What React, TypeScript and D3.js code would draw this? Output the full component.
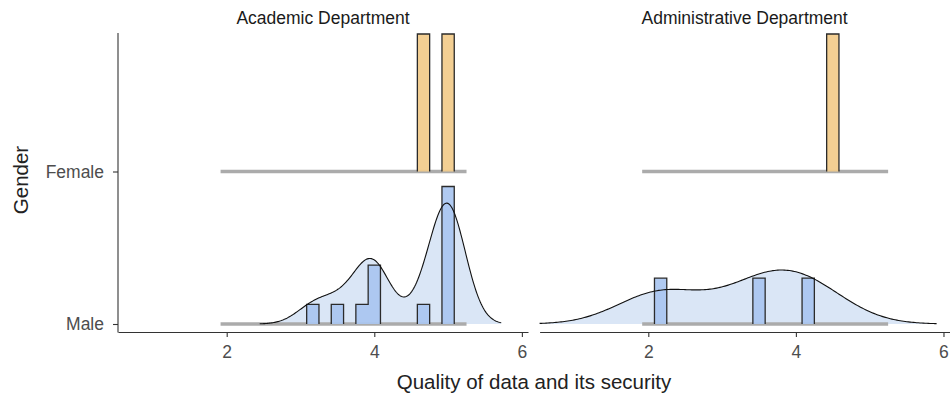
import React, { useEffect, useRef } from 'react';
import * as d3 from 'd3';

const departments = ['Academic Department', 'Administrative Department'];
const genders = ['Male', 'Female'];
const xTicks = [2, 4, 6];

// scores (means of six items) per department and gender
const academicMale = [3.167, 3.5, 3.833, 4, 4, 4, 4.667, 5, 5, 5, 5, 5, 5, 5];
const academicFemale = [4.667, 5];
const adminMale = [2.167, 3.5, 4.167];
const adminFemale = [4.5];

// kernel bandwidth of the Male density ridge, per department
const bandwidths = [0.24, 0.58];
const binWidth = 1 / 6;

const genderColors: Record<string, string> = { Male: '#a9c5f0', Female: '#f2cb8a' };

const App = () => {
    const chartRef = useRef<SVGSVGElement>(null);

    useEffect(() => {
        drawChart();
    }, []);

    const drawChart = () => {
        const width = 950;
        const height = 398;
        const panelLeft = 118;
        const panelWidth = 410;
        const panelGap = 11.6;
        const panelTop = 33;
        const axisY = 332;
        const ridgeHeight = 137.5;

        const svg = d3.select(chartRef.current)
            .attr('width', width)
            .attr('height', height);
        svg.selectAll('*').remove();

        const scores = [
            { Male: academicMale, Female: academicFemale },
            { Male: adminMale, Female: adminFemale },
        ] as Record<string, number[]>[];

        const allValues = scores.flatMap(s => [...s.Male, ...s.Female]);
        const binLo = d3.min(allValues)! - 1.5 * binWidth;
        const binHi = d3.max(allValues)! + 1.5 * binWidth;
        const nBins = Math.round((binHi - binLo) / binWidth);

        const x = d3.scaleLinear().domain([0.527, 6.083]).range([0, panelWidth]);
        const y = d3.scalePoint<string>().domain(genders).range([324, 171.5]);
        const densityScale = d3.scaleLinear().domain([0, 1]).range([0, ridgeHeight]);

        const binsOf = (values: number[]) => d3.range(nBins).map(i => {
            const x0 = binLo + i * binWidth;
            const count = values.filter(v => Math.floor((v - binLo) / binWidth) === i).length;
            return { x0, x1: x0 + binWidth, density: count / (values.length * binWidth) };
        });

        const kde = (values: number[], bw: number) => {
            const lo = Math.max(d3.min(values)! - 3 * bw, x.domain()[0]);
            const hi = Math.min(d3.max(values)! + 3 * bw, x.domain()[1]);
            const norm = values.length * bw * Math.sqrt(2 * Math.PI);
            return d3.range(241).map(i => {
                const t = lo + (hi - lo) * i / 240;
                const s = d3.sum(values, v => Math.exp(-((t - v) ** 2) / (2 * bw * bw)));
                return [t, s / norm] as [number, number];
            });
        };

        const font = "'Liberation Sans', Arial, sans-serif";

        departments.forEach((dept, p) => {
            const g = svg.append('g')
                .attr('transform', `translate(${panelLeft + p * (panelWidth + panelGap)},0)`);

            const binned = genders.map(gender => ({ gender, bins: binsOf(scores[p][gender]) }));
            const maxDensity = d3.max(binned, b => d3.max(b.bins, d => d.density))!;
            const h = d3.scaleLinear().domain([0, maxDensity]).range([0, ridgeHeight]);

            // density ridge (Male)
            const base = y('Male')!;
            const dens = kde(scores[p].Male, bandwidths[p]);
            g.append('path')
                .attr('d', d3.area<[number, number]>()
                    .x(d => x(d[0]))
                    .y0(base)
                    .y1(d => base - densityScale(d[1]))(dens))
                .attr('fill', '#dae6f6');

            binned.forEach(({ gender, bins }) => {
                const b0 = y(gender)!;
                g.append('line')
                    .attr('x1', x(binLo)).attr('x2', x(binHi))
                    .attr('y1', b0).attr('y2', b0)
                    .attr('stroke', '#ababab')
                    .attr('stroke-width', 3.5);

                const runs: typeof bins[] = [];
                let cur: typeof bins | null = null;
                bins.forEach(b => {
                    if (b.density > 0) {
                        if (!cur) { cur = []; runs.push(cur); }
                        cur.push(b);
                    } else cur = null;
                });

                runs.forEach(run => {
                    const pts: [number, number][] = [[x(run[0].x0), b0]];
                    run.forEach(b => {
                        pts.push([x(b.x0), b0 - h(b.density)]);
                        pts.push([x(b.x1), b0 - h(b.density)]);
                    });
                    pts.push([x(run[run.length - 1].x1), b0]);
                    g.append('path')
                        .attr('d', d3.line()(pts) + 'Z')
                        .attr('fill', genderColors[gender])
                        .attr('fill-opacity', 0.92);
                    g.append('path')
                        .attr('d', d3.line()(pts))
                        .attr('fill', 'none')
                        .attr('stroke', '#2b2b2b')
                        .attr('stroke-width', 1.3);
                });
            });

            g.append('path')
                .attr('d', d3.line<[number, number]>()
                    .x(d => x(d[0]))
                    .y(d => base - densityScale(d[1]))(dens))
                .attr('fill', 'none')
                .attr('stroke', '#111')
                .attr('stroke-width', 1.1);

            // x axis
            const ax = g.append('g')
                .attr('transform', `translate(0,${axisY})`)
                .call(d3.axisBottom(x).tickValues(xTicks).tickFormat(d3.format('d'))
                    .tickSize(5).tickSizeOuter(0).tickPadding(9));
            ax.select('.domain').attr('stroke', '#333').attr('stroke-width', 1.1);
            ax.selectAll('.tick line').attr('stroke', '#333').attr('stroke-width', 1.1);
            ax.selectAll('.tick text')
                .attr('fill', '#4d4d4d')
                .style('font-family', font)
                .style('font-size', '17.5px');

            // strip title
            g.append('text')
                .attr('x', panelWidth / 2)
                .attr('y', 23.5)
                .attr('text-anchor', 'middle')
                .attr('fill', '#1a1a1a')
                .style('font-family', font)
                .style('font-size', '17.5px')
                .text(dept);
        });

        // y axis
        const ay = svg.append('g')
            .attr('transform', `translate(${panelLeft},0)`)
            .call(d3.axisLeft(y).tickSize(5).tickPadding(9));
        ay.select('.domain').remove();
        ay.append('line')
            .attr('y1', panelTop).attr('y2', axisY + 0.5)
            .attr('stroke', '#333').attr('stroke-width', 1.1);
        ay.selectAll('.tick line').attr('stroke', '#333').attr('stroke-width', 1.1);
        ay.selectAll('.tick text')
            .attr('fill', '#4d4d4d')
            .style('font-family', font)
            .style('font-size', '17.5px');

        svg.append('text')
            .attr('transform', `translate(28,180) rotate(-90)`)
            .attr('text-anchor', 'middle')
            .attr('fill', '#222')
            .style('font-family', font)
            .style('font-size', '20.5px')
            .text('Gender');

        svg.append('text')
            .attr('x', 534)
            .attr('y', 389)
            .attr('text-anchor', 'middle')
            .attr('fill', '#222')
            .style('font-family', font)
            .style('font-size', '20.5px')
            .text('Quality of data and its security');
    };

    return (
        <svg ref={chartRef} style={{ position: 'absolute', left: 0, top: 0 }}></svg>
    );
};

export default App;
